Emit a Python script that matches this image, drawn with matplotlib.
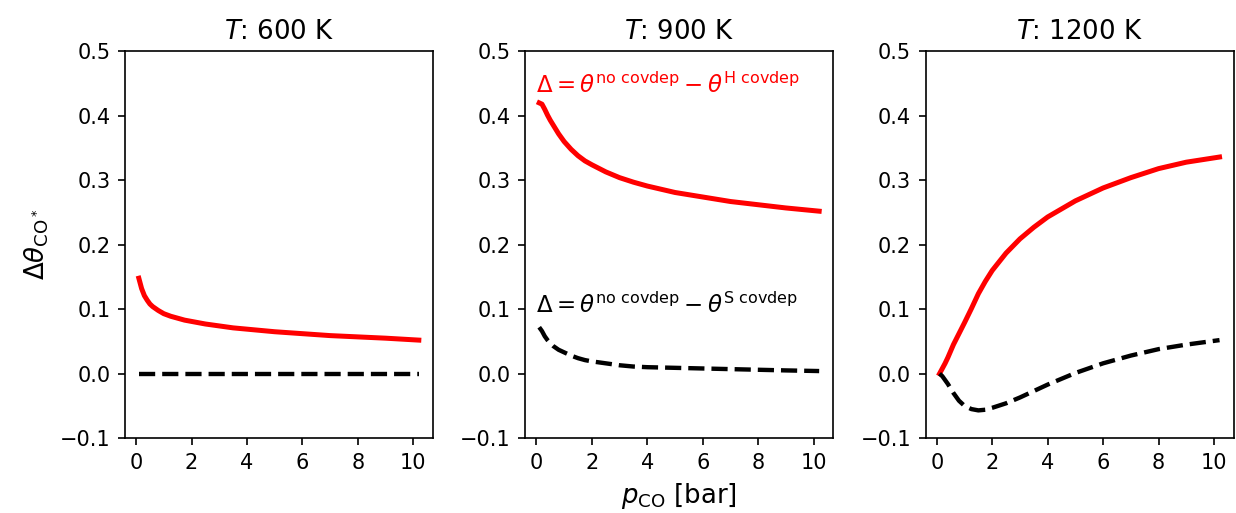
import matplotlib
matplotlib.use("Agg")
import matplotlib.pyplot as plt

# -----------------------------
# DATA
# -----------------------------
temps = [600, 900, 1200]
p_co = [0.1, 0.2, 0.3, 0.4, 0.5, 0.6, 0.8, 1.0, 1.25, 1.5, 1.75, 2,
        2.5, 3, 3.5, 4, 5, 6, 7, 8, 9, 10.2]

delta_h = {
    600: [0.148, 0.132, 0.121, 0.114, 0.108, 0.104, 0.098, 0.093, 0.089, 0.086, 0.083,
          0.081, 0.077, 0.074, 0.071, 0.069, 0.065, 0.062, 0.059, 0.057, 0.055, 0.052],
    900: [0.420, 0.418, 0.410, 0.401, 0.393, 0.386, 0.372, 0.360, 0.348, 0.338, 0.330,
          0.324, 0.313, 0.304, 0.297, 0.291, 0.281, 0.274, 0.267, 0.262, 0.257, 0.252],
    1200: [0.000, 0.008, 0.016, 0.025, 0.035, 0.045, 0.062, 0.079, 0.101, 0.124, 0.143,
           0.160, 0.187, 0.209, 0.227, 0.243, 0.268, 0.288, 0.304, 0.318, 0.328, 0.336],
}
delta_s = {
    600: [0.0] * 22,
    900: [0.072, 0.066, 0.058, 0.052, 0.047, 0.043, 0.037, 0.033, 0.028, 0.024, 0.021,
          0.019, 0.016, 0.013, 0.011, 0.010, 0.009, 0.008, 0.007, 0.006, 0.005, 0.004],
    1200: [0.000, -0.004, -0.010, -0.016, -0.023, -0.030, -0.042, -0.050, -0.055, -0.057,
           -0.056, -0.053, -0.046, -0.037, -0.027, -0.017, 0.001, 0.016, 0.028, 0.038,
           0.045, 0.052],
}

# -----------------------------
# PLOT
# -----------------------------
fig, axes = plt.subplots(1, 3, figsize=(8.24, 3.42), dpi=150)
fig.subplots_adjust(left=0.101, right=0.998, top=0.9, bottom=0.146, wspace=0.3)

for ax, T in zip(axes, temps):
    ax.plot(p_co, delta_h[T], color="red", lw=2.4)
    ax.plot(p_co, delta_s[T], color="black", lw=2.1, ls="--")
    ax.set_ylim(-0.1, 0.5)
    ax.set_xticks([0, 2, 4, 6, 8, 10])
    ax.set_title(f"$T$: {T} K", fontsize=12.5)

axes[0].set_ylabel(r"$\Delta\theta_{\mathrm{CO}^*}$", fontsize=12.5)
axes[1].set_xlabel(r"$p_{\mathrm{CO}}$ [bar]", fontsize=12.5)

axes[1].text(0.0, 0.435, r"$\Delta = \theta^{\mathrm{no\ covdep}} - \theta^{\mathrm{H\ covdep}}$",
             color="red", fontsize=11)
axes[1].text(0.0, 0.094, r"$\Delta = \theta^{\mathrm{no\ covdep}} - \theta^{\mathrm{S\ covdep}}$",
             color="black", fontsize=11)

plt.savefig("out.png", dpi=150)
plt.close()
